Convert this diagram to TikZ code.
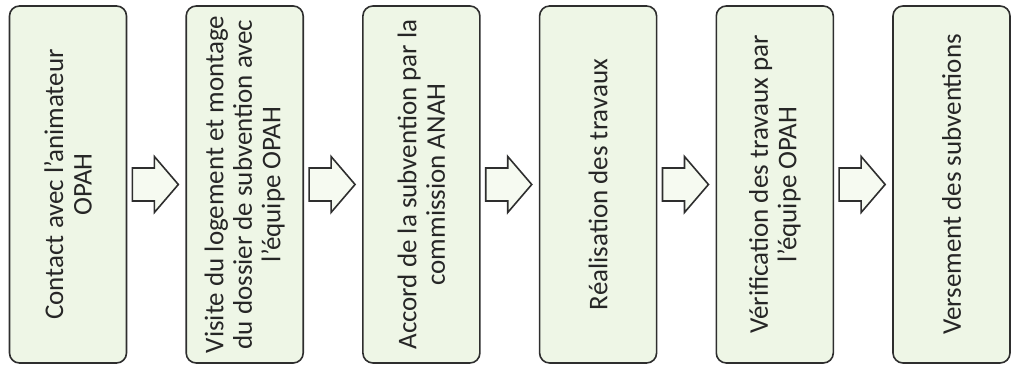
\documentclass[tikz,border=0pt]{standalone}
\usepackage{fontspec}
\setmainfont{Carlito}
\usetikzlibrary{calc}
\definecolor{boxfill}{HTML}{EEF6E6}
\definecolor{boxline}{HTML}{2E2E2E}
\definecolor{arrowfill}{HTML}{F6FAF1}
\tikzset{
  stepbox/.style={draw=boxline, line width=1.6pt, fill=boxfill, rounded corners=10pt,
    rotate=90, minimum width=357pt, minimum height=117pt, inner sep=0pt,
    align=center, text=black!85, font=\fontsize{27}{28.5}\selectfont},
  blockarrow/.style={draw=boxline, line width=1.6pt, fill=arrowfill, line join=miter}
}
\begin{document}
\begin{tikzpicture}[x=1pt,y=1pt]
\useasboundingbox (0,0) rectangle (1012,369);
\node[stepbox] (b1) at (68,184.5) {Contact avec l'animateur\\OPAH};
\node[stepbox] (b2) at (244.7,184.5) {Visite du logement et montage\\du dossier de subvention avec\\l'équipe OPAH};
\node[stepbox] (b3) at (421.4,184.5) {Accord de la subvention par la\\commission ANAH};
\node[stepbox] (b4) at (598.1,184.5) {Réalisation des travaux};
\node[stepbox] (b5) at (774.8,184.5) {Vérification des travaux par\\l'équipe OPAH};
\node[stepbox] (b6) at (951.5,184.5) {Versement des subventions};
\foreach \a/\b in {b1/b2,b2/b3,b3/b4,b4/b5,b5/b6}{
  \coordinate (m-\a) at ($(\a.south)!0.5!(\b.north)$);
  \draw[blockarrow, shift={(m-\a)}] (-24,16.5) -- (-2,16.5) -- (-2,28) -- (22,0)
    -- (-2,-28) -- (-2,-16.5) -- (-24,-16.5) -- cycle;
}
\end{tikzpicture}
\end{document}
